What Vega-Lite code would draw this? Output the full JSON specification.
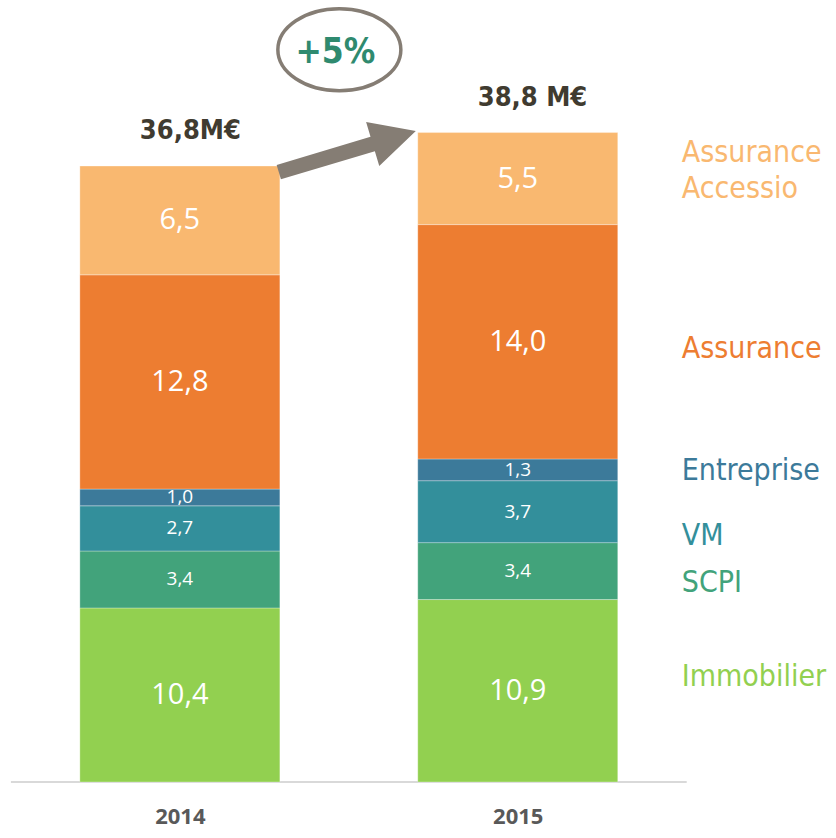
{
  "$schema": "https://vega.github.io/schema/vega-lite/v6.json",
  "width": 836,
  "height": 782,
  "padding": 0,
  "config": {"view": {"stroke": null}},
  "datasets": {
    "segments": [
      {"year": 2014, "cat": "Immobilier", "rank": 1, "value": 10.4, "label": "10,4", "name": "Immobilier"},
      {"year": 2014, "cat": "SCPI", "rank": 2, "value": 3.4, "label": "3,4", "name": "SCPI"},
      {"year": 2014, "cat": "VM", "rank": 3, "value": 2.7, "label": "2,7", "name": "VM"},
      {"year": 2014, "cat": "Entreprise", "rank": 4, "value": 1.0, "label": "1,0", "name": "Entreprise"},
      {"year": 2014, "cat": "Assurance", "rank": 5, "value": 12.8, "label": "12,8", "name": "Assurance"},
      {"year": 2014, "cat": "Assurance Accessio", "rank": 6, "value": 6.5, "label": "6,5", "name": "Assurance\nAccessio"},
      {"year": 2015, "cat": "Immobilier", "rank": 1, "value": 10.9, "label": "10,9", "name": "Immobilier"},
      {"year": 2015, "cat": "SCPI", "rank": 2, "value": 3.4, "label": "3,4", "name": "SCPI"},
      {"year": 2015, "cat": "VM", "rank": 3, "value": 3.7, "label": "3,7", "name": "VM"},
      {"year": 2015, "cat": "Entreprise", "rank": 4, "value": 1.3, "label": "1,3", "name": "Entreprise"},
      {"year": 2015, "cat": "Assurance", "rank": 5, "value": 14.0, "label": "14,0", "name": "Assurance"},
      {"year": 2015, "cat": "Assurance Accessio", "rank": 6, "value": 5.5, "label": "5,5", "name": "Assurance\nAccessio"}
    ],
    "totals": [
      {"year": 2014, "total": 36.8, "label": "36,8M€"},
      {"year": 2015, "total": 38.8, "label": "38,8 M€"}
    ],
    "baseline": [{"x0": 2013.5, "x1": 2015.5, "y": 0}],
    "arrow": [{"x": 2014.494, "y": 37.69}],
    "growth": [{"x": 2014.472, "y": 43.75, "label": "+5%"}]
  },
  "layer": [
    {
      "data": {"name": "baseline"},
      "mark": {"type": "rule", "color": "#D9D9D9", "strokeWidth": 2},
      "encoding": {
        "x": {"field": "x0", "type": "quantitative"},
        "x2": {"field": "x1"},
        "y": {"field": "y", "type": "quantitative"}
      }
    },
    {
      "data": {"name": "segments"},
      "transform": [
        {"stack": "value", "groupby": ["year"], "sort": [{"field": "rank", "order": "ascending"}], "as": ["v0", "v1"]},
        {"calculate": "(datum.v0 + datum.v1) / 2", "as": "mid"}
      ],
      "layer": [
        {
          "mark": {"type": "bar", "width": 200, "stroke": "#ffffff", "strokeWidth": 0.6, "strokeOpacity": 0.5},
          "encoding": {
            "x": {"field": "year", "type": "quantitative"},
            "y": {"field": "v0", "type": "quantitative"},
            "y2": {"field": "v1"},
            "color": {
              "field": "cat", "type": "nominal", "legend": null,
              "scale": {
                "domain": ["Immobilier", "SCPI", "VM", "Entreprise", "Assurance", "Assurance Accessio"],
                "range": ["#92D050", "#42A37B", "#338F9B", "#3C7A9A", "#ED7D31", "#F9B870"]
              }
            }
          }
        },
        {
          "mark": {"type": "text", "font": "Open Sans", "color": "#ffffff", "baseline": "middle", "align": "center"},
          "encoding": {
            "x": {"field": "year", "type": "quantitative"},
            "y": {"field": "mid", "type": "quantitative"},
            "text": {"field": "label"},
            "size": {"condition": {"test": "datum.value >= 5", "value": 29}, "value": 19}
          }
        },
        {
          "transform": [{"filter": "datum.year == 2015 && datum.cat == 'Assurance Accessio'"}],
          "mark": {"type": "text", "font": "DejaVu Sans Condensed, DejaVu Sans", "fontSize": 30, "align": "left", "baseline": "middle", "dx": 164, "dy": -26, "lineBreak": "\n", "lineHeight": 36},
          "encoding": {
            "x": {"field": "year", "type": "quantitative"},
            "y": {"field": "mid", "type": "quantitative"},
            "text": {"field": "name"},
            "color": {"field": "cat", "type": "nominal", "legend": null}
          }
        },
        {
          "transform": [{"filter": "datum.year == 2015 && datum.cat == 'Assurance'"}],
          "mark": {"type": "text", "font": "DejaVu Sans Condensed, DejaVu Sans", "fontSize": 30, "align": "left", "baseline": "middle", "dx": 164, "dy": 7},
          "encoding": {
            "x": {"field": "year", "type": "quantitative"},
            "y": {"field": "mid", "type": "quantitative"},
            "text": {"field": "name"},
            "color": {"field": "cat", "type": "nominal", "legend": null}
          }
        },
        {
          "transform": [{"filter": "datum.year == 2015 && datum.cat == 'Entreprise'"}],
          "mark": {"type": "text", "font": "DejaVu Sans Condensed, DejaVu Sans", "fontSize": 30, "align": "left", "baseline": "middle", "dx": 164, "dy": 1},
          "encoding": {
            "x": {"field": "year", "type": "quantitative"},
            "y": {"field": "mid", "type": "quantitative"},
            "text": {"field": "name"},
            "color": {"field": "cat", "type": "nominal", "legend": null}
          }
        },
        {
          "transform": [{"filter": "datum.year == 2015 && datum.cat == 'VM'"}],
          "mark": {"type": "text", "font": "DejaVu Sans Condensed, DejaVu Sans", "fontSize": 30, "align": "left", "baseline": "middle", "dx": 164, "dy": 24},
          "encoding": {
            "x": {"field": "year", "type": "quantitative"},
            "y": {"field": "mid", "type": "quantitative"},
            "text": {"field": "name"},
            "color": {"field": "cat", "type": "nominal", "legend": null}
          }
        },
        {
          "transform": [{"filter": "datum.year == 2015 && datum.cat == 'SCPI'"}],
          "mark": {"type": "text", "font": "DejaVu Sans Condensed, DejaVu Sans", "fontSize": 30, "align": "left", "baseline": "middle", "dx": 164, "dy": 12},
          "encoding": {
            "x": {"field": "year", "type": "quantitative"},
            "y": {"field": "mid", "type": "quantitative"},
            "text": {"field": "name"},
            "color": {"field": "cat", "type": "nominal", "legend": null}
          }
        },
        {
          "transform": [{"filter": "datum.year == 2015 && datum.cat == 'Immobilier'"}],
          "mark": {"type": "text", "font": "DejaVu Sans Condensed, DejaVu Sans", "fontSize": 30, "align": "left", "baseline": "middle", "dx": 164, "dy": -14},
          "encoding": {
            "x": {"field": "year", "type": "quantitative"},
            "y": {"field": "mid", "type": "quantitative"},
            "text": {"field": "name"},
            "color": {"field": "cat", "type": "nominal", "legend": null}
          }
        }
      ]
    },
    {
      "data": {"name": "totals"},
      "mark": {"type": "text", "font": "DejaVu Sans Condensed, DejaVu Sans", "fontWeight": "bold", "fontSize": 27, "color": "#403B30", "align": "left", "baseline": "middle", "dy": -35, "dx": -40},
      "encoding": {
        "x": {"field": "year", "type": "quantitative"},
        "y": {"field": "total", "type": "quantitative"},
        "text": {"field": "label"}
      }
    },
    {
      "data": {"name": "arrow"},
      "mark": {
        "type": "point", "filled": true, "color": "#857D74", "opacity": 1, "size": 19600,
        "shape": "M-1.002,0.197 L0.339,-0.204 L0.276,-0.416 L0.986,-0.286 L0.464,0.213 L0.401,0.001 L-0.941,0.403 Z"
      },
      "encoding": {
        "x": {"field": "x", "type": "quantitative"},
        "y": {"field": "y", "type": "quantitative"}
      }
    },
    {
      "data": {"name": "growth"},
      "layer": [
        {
          "mark": {
            "type": "point", "filled": false, "stroke": "#857D74", "strokeWidth": 3.5, "opacity": 1, "size": 15129,
            "shape": "M-1,0 A1,0.667 0 1,0 1,0 A1,0.667 0 1,0 -1,0 Z"
          },
          "encoding": {
            "x": {"field": "x", "type": "quantitative"},
            "y": {"field": "y", "type": "quantitative"}
          }
        },
        {
          "mark": {"type": "text", "font": "DejaVu Sans Condensed, DejaVu Sans", "fontWeight": "bold", "fontSize": 35, "color": "#2F8A6F", "align": "center", "baseline": "middle", "dx": -4, "dy": 2},
          "encoding": {
            "x": {"field": "x", "type": "quantitative"},
            "y": {"field": "y", "type": "quantitative"},
            "text": {"field": "label"}
          }
        }
      ]
    }
  ],
  "resolve": {"scale": {"color": "shared"}},
  "encoding": {
    "x": {
      "type": "quantitative",
      "scale": {"domain": [2013.4825, 2015.927], "nice": false, "zero": false},
      "axis": {
        "values": [2014, 2015], "format": "d", "title": null, "grid": false, "ticks": false, "domain": false,
        "labelFont": "Open Sans", "labelFontWeight": "bold", "labelFontSize": 22, "labelColor": "#595959", "labelPadding": 24
      }
    },
    "y": {
      "type": "quantitative",
      "scale": {"domain": [0, 46.72], "nice": false, "zero": true},
      "axis": null
    }
  }
}
